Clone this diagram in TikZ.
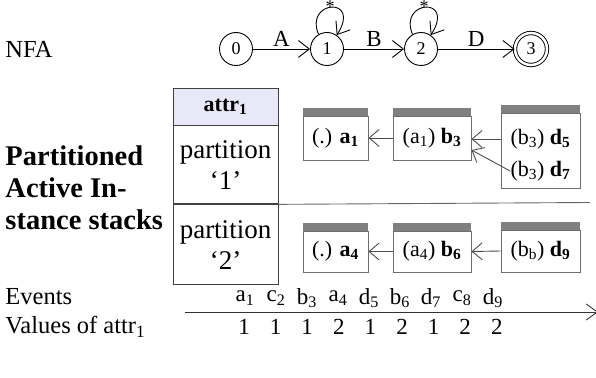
\documentclass[tikz,border=0pt]{standalone}
\usepackage{fontspec}
\setmainfont{Liberation Serif}
\usetikzlibrary{arrows.meta}
\definecolor{headfill}{RGB}{232,232,248}
\definecolor{barfill}{RGB}{128,128,128}
\definecolor{boxline}{RGB}{110,110,110}
\newcommand{\sbs}[1]{\textsubscript{#1}}
\begin{document}
\begin{tikzpicture}[x=1pt,y=-1pt,line width=0.9pt,
  lbl/.style={inner sep=0pt,anchor=west,font=\fontsize{24.5}{26}\selectfont},
  blbl/.style={inner sep=0pt,anchor=west,align=left,font=\fontsize{28.5}{33}\bfseries\selectfont},
  state/.style={circle,draw,minimum size=33pt,inner sep=0pt,font=\fontsize{18}{18}\selectfont},
  tr/.style={draw,-{Straight Barb[length=11pt,width=17pt]}},
  elbl/.style={above,inner sep=2pt,font=\fontsize{23}{23}\selectfont},
  tcell/.style={draw=black!75,minimum width=105pt,inner sep=0pt,align=center,font=\fontsize{27}{31}\selectfont},
  stk/.style={draw=boxline,inner sep=0pt},
  btxt/.style={inner sep=0pt,font=\fontsize{22}{22}\selectfont},
  sarr/.style={draw=black!70,-{Straight Barb[length=10pt,width=17pt]}},
  ev/.style={inner sep=0pt,font=\fontsize{23}{23}\selectfont}
]
\useasboundingbox (0,0) rectangle (596,377);

% NFA
\node[lbl] (nfa) at (5,49) {NFA};
\node[state] (s0) at (236,49) {0};
\node[state] (s1) at (327,49) {1};
\node[state] (s2) at (421,49) {2};
\node[state,double,double distance=2.5pt,minimum size=32pt] (s3) at (531,49) {3};
\draw[tr] (s0) -- node[elbl] {A} (s1);
\draw[tr] (s1) -- node[elbl] {B} (s2);
\draw[tr] (s2) -- node[elbl] {D} (s3);
\draw[tr] (s1.120) .. controls (304,0) and (362,-4) .. (s1.55);
\draw[tr] (s2.120) .. controls (398,0) and (456,-4) .. (s2.55);
\node[inner sep=0pt,font=\fontsize{18}{18}\selectfont] (st1) at (330,7) {*};
\node[inner sep=0pt,font=\fontsize{18}{18}\selectfont] (st2) at (424,7) {*};

% left label
\node[blbl] (pais) at (5,188) {Partitioned\\[-1pt]Active In-\\[-1pt]stance stacks};

% table
\node[tcell,fill=headfill,minimum height=37pt,font=\fontsize{22}{22}\bfseries\selectfont] (hd) at (225.5,106.5) {attr\sbs{1}};
\node[tcell,minimum height=78pt,anchor=north] (p1) at (hd.south) {partition\\‘1’};
\node[tcell,minimum height=80pt,anchor=north] (p2) at (p1.south) {partition\\‘2’};
\coordinate (divend) at (590,202.5);
\draw[black!60] (p1.south east) -- (divend);

% stacks row 1
\node[stk,minimum width=65pt,minimum height=44pt] (a1) at (335.5,138) {};
\node[stk,minimum width=78pt,minimum height=44pt] (b3) at (432,138) {};
\node[stk,minimum width=79pt,minimum height=75pt] (dd) at (540.5,150.5) {};
\fill[barfill] ([yshift=8pt]a1.north west) rectangle (a1.north east);
\fill[barfill] ([yshift=8pt]b3.north west) rectangle (b3.north east);
\fill[barfill] ([yshift=8pt]dd.north west) rectangle (dd.north east);
\node[btxt] (ta1) at (a1) {(.) \textbf{a\sbs{1}}};
\node[btxt] (tb3) at (b3) {(a\sbs{1}) \textbf{b\sbs{3}}};
\node[btxt] (td5) at (540.5,139) {(b\sbs{3}) \textbf{d\sbs{5}}};
\node[btxt] (td7) at (540.5,171) {(b\sbs{3}) \textbf{d\sbs{7}}};
\draw[sarr] (b3.west) -- (a1.east);
\draw[sarr] (dd.west |- td5) -- (b3.east |- td5);
\draw[sarr] (td7.west) -- ([yshift=-12pt]b3.east);

% stacks row 2
\node[stk,minimum width=65pt,minimum height=41pt] (a4) at (335.5,251.5) {};
\node[stk,minimum width=78pt,minimum height=41pt] (b6) at (432,251.5) {};
\node[stk,minimum width=79pt,minimum height=42pt] (d9) at (540.5,251) {};
\fill[barfill] ([yshift=8pt]a4.north west) rectangle (a4.north east);
\fill[barfill] ([yshift=8pt]b6.north west) rectangle (b6.north east);
\fill[barfill] ([yshift=8pt]d9.north west) rectangle (d9.north east);
\node[btxt] (ta4) at (a4) {(.) \textbf{a\sbs{4}}};
\node[btxt] (tb6) at (b6) {(a\sbs{4}) \textbf{b\sbs{6}}};
\node[btxt] (td9) at (d9) {(b\sbs{b}) \textbf{d\sbs{9}}};
\draw[sarr] (b6.west) -- (a4.east);
\draw[sarr] (d9.west) -- (b6.east);

% events
\node[lbl] (evl) at (5,297) {Events};
\node[lbl] (val) at (5,327) {Values of attr\sbs{1}};
\coordinate (tl0) at (185,312);
\coordinate (tl1) at (598,312);
\draw[black!80,-{Straight Barb[length=11pt,width=16pt]}] (tl0) -- (tl1);
\foreach \n/\t/\s [count=\i from 0] in {e1/a/1,e2/c/2,e3/b/3,e4/a/4,e5/d/5,e6/b/6,e7/d/7,e8/c/8,e9/d/9}
  \node[ev] (\n) at (245+31*\i,298) {\t\sbs{\s}};
\foreach \n/\t [count=\i from 0] in {v1/1,v2/1,v3/1,v4/2,v5/1,v6/2,v7/1,v8/2,v9/2}
  \node[ev] (\n) at (244+31.6*\i,327) {\t};
\end{tikzpicture}
\end{document}
